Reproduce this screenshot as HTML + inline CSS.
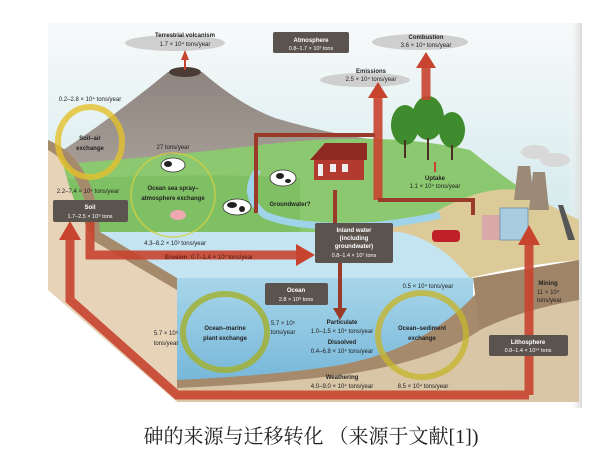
<!DOCTYPE html>
<html><head><meta charset="utf-8"><style>
html,body{margin:0;padding:0;background:#fff;width:600px;height:463px;overflow:hidden}
svg{display:block}
text{font-family:"Liberation Sans",sans-serif;font-size:6px;fill:#222;text-anchor:middle}
.b{font-weight:bold}
.w{fill:#fff}
</style></head><body>
<svg width="600" height="463" viewBox="0 0 600 463" xmlns="http://www.w3.org/2000/svg">
<defs>
<linearGradient id="sky" x1="0" y1="0" x2="0" y2="1"><stop offset="0" stop-color="#f7fafa"/><stop offset="1" stop-color="#cfe7ea"/></linearGradient>
<linearGradient id="mt" x1="0" y1="0" x2="0" y2="1"><stop offset="0" stop-color="#8e8580"/><stop offset="1" stop-color="#aaa19a"/></linearGradient>
<linearGradient id="sea" x1="0" y1="0" x2="0" y2="1"><stop offset="0" stop-color="#a8d6ea"/><stop offset="1" stop-color="#6db1d6"/></linearGradient>
<linearGradient id="edge" x1="0" y1="0" x2="1" y2="0"><stop offset="0" stop-color="#fff" stop-opacity="0"/><stop offset="1" stop-color="#d8d8d8"/></linearGradient>
</defs>
<rect x="48" y="23" width="531" height="230" fill="url(#sky)"/>
<rect x="568" y="23" width="14" height="385" fill="url(#edge)"/>
<ellipse cx="175" cy="43" rx="50" ry="8" fill="#cfcfcf"/>
<ellipse cx="420" cy="42" rx="48" ry="8" fill="#cfcfcf"/>
<ellipse cx="365" cy="80" rx="45" ry="7" fill="#cfcfcf"/>
<!-- mountain -->
<path d="M48 160 Q110 120 168 72 L202 72 Q240 105 275 118 Q340 138 420 145 L440 165 L48 185Z" fill="url(#mt)"/>
<ellipse cx="185" cy="72" rx="16" ry="5" fill="#4a3c34"/>
<!-- green land -->
<path d="M48 165 Q150 158 260 145 Q380 130 470 150 Q520 190 540 200 L540 230 L48 240Z" fill="#8cc870"/>
<path d="M48 180 Q200 172 300 178 L300 240 L48 240Z" fill="#80c064"/>
<path d="M430 215 Q480 185 520 190 L579 220 L579 260 Q520 265 470 278 L390 278 L390 225Z" fill="#dccb98"/>
<path d="M258 170 Q240 195 265 215 Q300 230 380 225 Q420 220 440 215" fill="none" stroke="#9ed3ea" stroke-width="7"/>
<path d="M100 232 L400 232 Q440 240 470 278 L177 278 L100 240Z" fill="#c4e4f2"/>
<!-- left side block -->
<path d="M48 140 L48 290 L177 402 L177 278 L90 232 Q70 200 60 150Z" fill="#e6d3b8"/>
<path d="M48 140 Q95 160 100 232 L177 278 L177 290 L92 240 Q85 170 48 150Z" fill="#a58a6c"/>
<rect x="177" y="278" width="296" height="124" fill="url(#sea)"/>
<path d="M177 380 Q280 375 340 365 Q420 350 470 300 Q490 275 579 260 L579 402 L177 402Z" fill="#a58a6c"/>
<path d="M177 388 Q300 382 360 372 Q440 358 480 330 Q520 300 579 290 L579 402 L177 402Z" fill="#d9c6a6"/>
<path d="M473 278 L579 260 L579 300 Q520 310 480 330Z" fill="#a08468"/>
<!-- trees -->
<g fill="#3f8c2e"><ellipse cx="405" cy="125" rx="14" ry="20"/><ellipse cx="428" cy="118" rx="16" ry="22"/><ellipse cx="452" cy="130" rx="13" ry="18"/></g>
<g stroke="#4a3020" stroke-width="2"><line x1="405" y1="140" x2="405" y2="158"/><line x1="428" y1="138" x2="428" y2="160"/><line x1="452" y1="145" x2="452" y2="160"/></g>
<rect x="314" y="158" width="50" height="22" fill="#b23a2e"/>
<path d="M310 160 L325 143 L367 143 L367 160Z" fill="#8e2a22"/>
<g fill="#eee"><rect x="330" y="164" width="6" height="8"/><rect x="342" y="164" width="6" height="8"/><rect x="318" y="164" width="5" height="12"/></g>
<!-- cows -->
<g fill="#fff" stroke="#333" stroke-width="0.8"><ellipse cx="173" cy="165" rx="12" ry="7"/><ellipse cx="237" cy="207" rx="14" ry="8"/><ellipse cx="283" cy="178" rx="13" ry="8"/></g>
<g fill="#222"><ellipse cx="168" cy="164" rx="4" ry="3"/><ellipse cx="232" cy="205" rx="5" ry="3"/><ellipse cx="242" cy="209" rx="3" ry="3"/><ellipse cx="280" cy="176" rx="4" ry="3"/><ellipse cx="288" cy="181" rx="3" ry="2"/></g>
<ellipse cx="178" cy="215" rx="8" ry="5" fill="#f0a8b0"/>
<!-- factory -->
<rect x="482" y="215" width="20" height="25" fill="#d9a8a8"/>
<rect x="500" y="208" width="28" height="32" fill="#a9cde0" stroke="#6a8fa5" stroke-width="0.8"/>
<path d="M518 166 L530 166 L534 200 L514 200Z" fill="#9c8a78"/>
<path d="M533 172 L545 172 L549 210 L529 210Z" fill="#9c8a78"/>
<ellipse cx="535" cy="152" rx="14" ry="7" fill="#d8d8d8"/><ellipse cx="555" cy="160" rx="15" ry="7" fill="#d8d8d8"/>
<path d="M558 205 L563 205 L575 240 L568 240Z" fill="#555"/>
<rect x="432" y="230" width="28" height="12" rx="4" fill="#c0202a"/>
<g fill="none" stroke-width="6" opacity="0.8">
<ellipse cx="90" cy="142" rx="32" ry="35" stroke="#e3c02c"/>
<ellipse cx="173" cy="195" rx="42" ry="42" stroke="#d5cf40" stroke-width="1.5"/>
<ellipse cx="225" cy="332" rx="42" ry="38" stroke="#a4b02a"/>
<ellipse cx="422" cy="335" rx="44" ry="42" stroke="#c6b530"/>
</g>
<g fill="none" stroke="#c8442f" stroke-width="9" opacity="0.9">
<path d="M529 395 L529 240"/>
<path d="M529 395 L177 395 L70 300 L70 235"/>
<path d="M90 222 L90 255 L300 255"/>
<path d="M378 200 L378 95"/>
<path d="M426 100 L426 63"/>
</g>
<g fill="#c8442f">
<path d="M518 245 L529 225 L540 245Z"/><path d="M59 240 L70 221 L81 240Z"/>
<path d="M296 244 L315 255 L296 266Z"/><path d="M368 98 L378 82 L388 98Z"/>
<path d="M416 68 L426 52 L436 68Z"/><path d="M181 60 L185 50 L189 60Z"/>
</g>
<line x1="185" y1="70" x2="185" y2="58" stroke="#c8442f" stroke-width="2"/>
<line x1="435" y1="172" x2="435" y2="162" stroke="#c8442f" stroke-width="2"/>
<g fill="none" stroke="#9a3a28" stroke-width="4">
<path d="M256 213 L256 135 L375 135"/><path d="M378 200 L473 200 L473 215"/>
<path d="M340 263 L340 310"/><path d="M335 223 L335 190"/>
</g>
<path d="M333 308 L340 320 L347 308Z" fill="#9a3a28"/>
<g fill="#5a534e">
<rect x="273" y="32" width="76" height="21" rx="2"/>
<rect x="53" y="200" width="75" height="22" rx="2"/>
<rect x="315" y="223" width="78" height="40" rx="2"/>
<rect x="265" y="283" width="63" height="22" rx="2"/>
<rect x="489" y="335" width="79" height="21" rx="2"/>
</g>
<text class="b w" x="311" y="42">Atmosphere</text><text class="w" x="311" y="50" style="font-size:5.5px">0.8–1.7 × 10³ tons</text>
<text class="b w" x="90" y="209">Soil</text><text class="w" x="90" y="218" style="font-size:5.5px">1.7–2.5 × 10⁹ tons</text>
<text class="b w" x="354" y="232">Inland water</text><text class="b w" x="354" y="240">(including</text><text class="b w" x="354" y="248">groundwater)</text><text class="w" x="354" y="257" style="font-size:5.5px">0.8–1.4 × 10⁷ tons</text>
<text class="b w" x="296" y="292">Ocean</text><text class="w" x="296" y="301" style="font-size:5.5px">2.8 × 10⁹ tons</text>
<text class="b w" x="528" y="344">Lithosphere</text><text class="w" x="528" y="352" style="font-size:5.5px">0.8–1.4 × 10¹⁴ tons</text>
<text class="b" x="185" y="37">Terrestrial volcanism</text><text x="185" y="46">1.7 × 10⁴ tons/year</text>
<text class="b" x="426" y="39">Combustion</text><text x="426" y="47">3.6 × 10⁴ tons/year</text>
<text class="b" x="371" y="73">Emissions</text><text x="371" y="81">2.5 × 10⁴ tons/year</text>
<text x="90" y="101">0.2–2.8 × 10⁴ tons/year</text>
<text class="b" x="90" y="140">Soil–air</text><text class="b" x="90" y="150">exchange</text>
<text x="173" y="149">27 tons/year</text>
<text class="b" x="173" y="190">Ocean sea spray–</text><text class="b" x="173" y="200">atmosphere exchange</text>
<text x="88" y="193">2.2–7.4 × 10⁴ tons/year</text>
<text class="b" x="290" y="206">Groundwater?</text>
<text class="b" x="435" y="180">Uptake</text><text x="435" y="188">1.1 × 10⁴ tons/year</text>
<text x="175" y="245">4.3–8.2 × 10³ tons/year</text>
<text class="b" x="165" y="259" style="fill:#6a1a10;text-anchor:start">Erosion</text><text x="191" y="259" style="text-anchor:start;fill:#4a1a10">0.7–1.4 × 10⁷ tons/year</text>
<text x="428" y="288">0.5 × 10⁴ tons/year</text>
<text class="b" x="548" y="285">Mining</text>
<text x="537" y="294" style="text-anchor:start">11 × 10⁴</text><text x="537" y="302" style="text-anchor:start">tons/year</text>
<text class="b" x="225" y="330">Ocean–marine</text><text class="b" x="225" y="340">plant exchange</text>
<text x="166" y="335">5.7 × 10⁵</text><text x="166" y="345">tons/year</text>
<text x="283" y="325">5.7 × 10⁵</text><text x="283" y="334">tons/year</text>
<text class="b" x="342" y="324">Particulate</text><text x="342" y="333">1.0–1.5 × 10⁴ tons/year</text>
<text class="b" x="342" y="344">Dissolved</text><text x="342" y="353">0.4–6.8 × 10⁴ tons/year</text>
<text class="b" x="422" y="330">Ocean–sediment</text><text class="b" x="422" y="340">exchange</text>
<text class="b" x="342" y="379">Weathering</text><text x="342" y="388">4.0–9.0 × 10⁴ tons/year</text>
<text x="423" y="388">8.5 × 10⁴ tons/year</text>
<text x="311" y="443" style="font-family:'Liberation Serif','Noto Serif CJK SC',serif;font-size:20px;fill:#222">砷的来源与迁移转化 （来源于文献[1])</text>
</svg>
</body></html>
